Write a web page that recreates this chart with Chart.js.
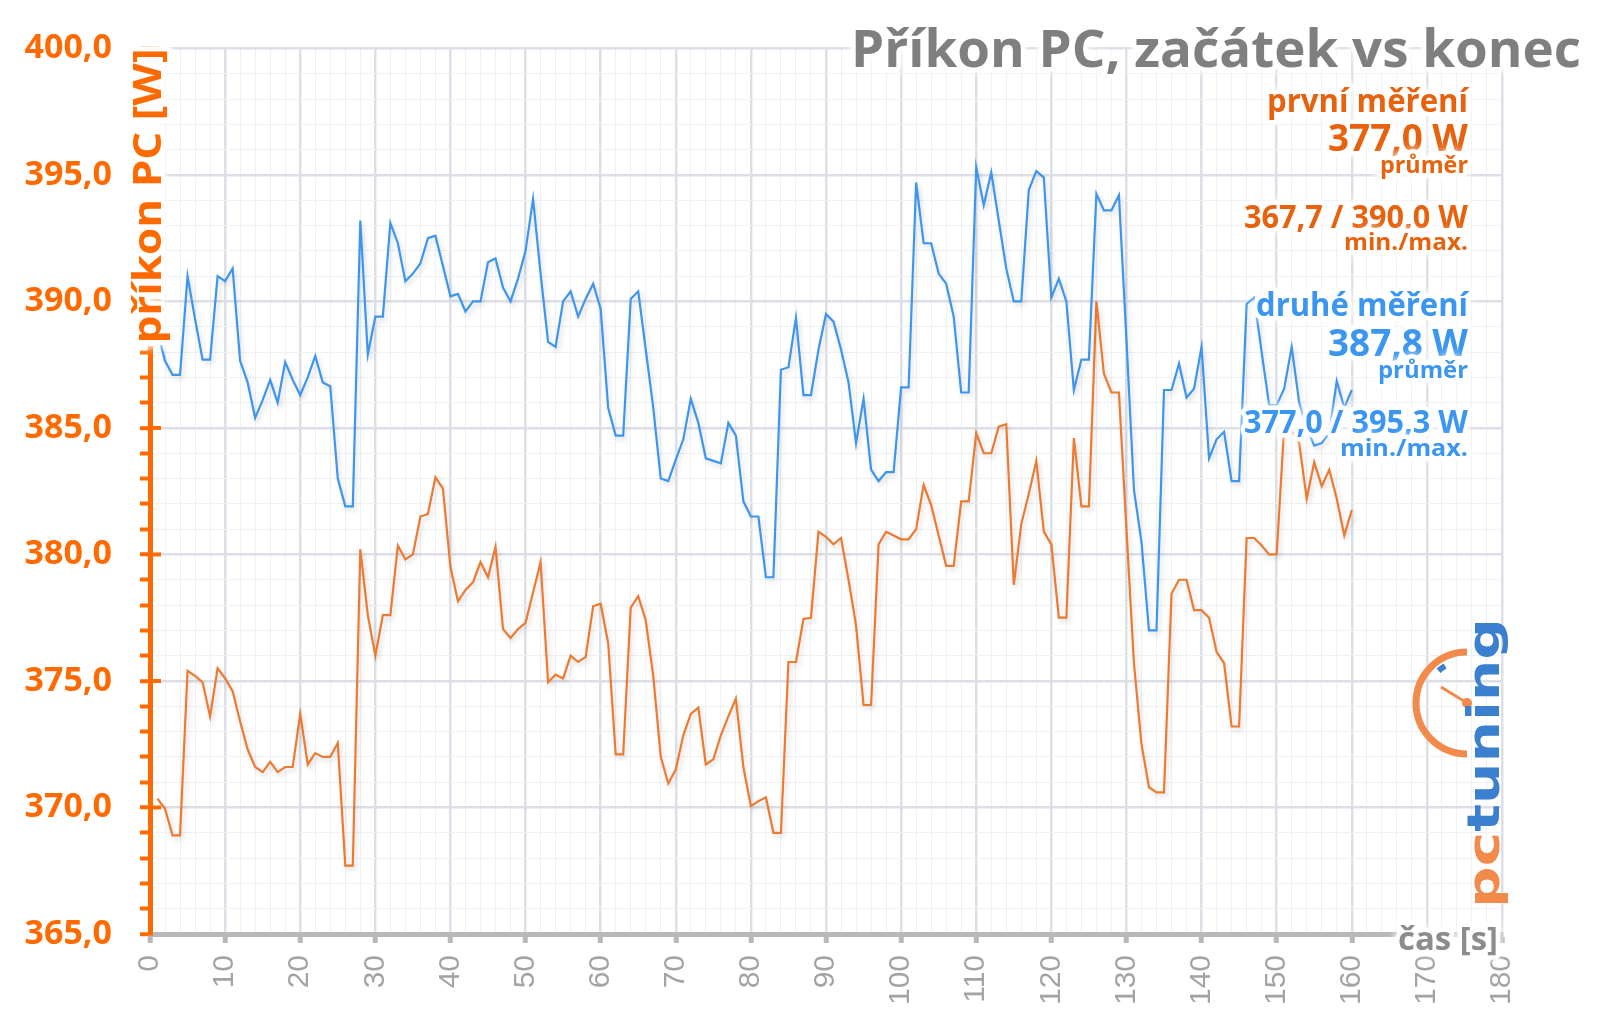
<!DOCTYPE html>
<html>
<head>
<meta charset="utf-8">
<script src="https://cdn.jsdelivr.net/npm/chart.js@4.4.0/dist/chart.umd.min.js"></script>
<style>
  html, body { margin: 0; padding: 0; background: #fff; }
  #chart { display: block; }
</style>
</head>
<body>
<canvas id="chart" width="1600" height="1017"></canvas>
<script>
// čas [s]
const seconds = [
    1, 2, 3, 4, 5, 6, 7, 8, 9, 10, 11, 12, 13, 14, 15, 16, 17, 18, 19, 20,
    21, 22, 23, 24, 25, 26, 27, 28, 29, 30, 31, 32, 33, 34, 35, 36, 37, 38, 39, 40,
    41, 42, 43, 44, 45, 46, 47, 48, 49, 50, 51, 52, 53, 54, 55, 56, 57, 58, 59, 60,
    61, 62, 63, 64, 65, 66, 67, 68, 69, 70, 71, 72, 73, 74, 75, 76, 77, 78, 79, 80,
    81, 82, 83, 84, 85, 86, 87, 88, 89, 90, 91, 92, 93, 94, 95, 96, 97, 98, 99, 100,
    101, 102, 103, 104, 105, 106, 107, 108, 109, 110, 111, 112, 113, 114, 115, 116, 117, 118, 119, 120,
    121, 122, 123, 124, 125, 126, 127, 128, 129, 130, 131, 132, 133, 134, 135, 136, 137, 138, 139, 140,
    141, 142, 143, 144, 145, 146, 147, 148, 149, 150, 151, 152, 153, 154, 155, 156, 157, 158, 159, 160
];

// první měření [W]
const firstRun = [
    370.35, 369.95, 368.9, 368.9, 375.4, 375.2, 374.95, 373.6, 375.5, 375.1,
    374.6, 373.4, 372.3, 371.6, 371.4, 371.8, 371.4, 371.6, 371.6, 373.7,
    371.7, 372.15, 372.0, 372.0, 372.55, 367.7, 367.7, 380.2, 377.6, 376.0,
    377.6, 377.6, 380.35, 379.8, 380.0, 381.5, 381.6, 383.05, 382.6, 379.5,
    378.15, 378.6, 378.9, 379.7, 379.1, 380.3, 377.05, 376.7, 377.05, 377.3,
    378.5, 379.7, 374.95, 375.25, 375.1, 376.0, 375.75, 375.95, 377.95, 378.05,
    376.5, 372.1, 372.1, 377.9, 378.35, 377.4, 375.2, 372.0, 370.95, 371.5,
    372.85, 373.7, 373.95, 371.7, 371.9, 372.85, 373.6, 374.3, 371.6, 370.05,
    370.25, 370.4, 369.0, 369.0, 375.75, 375.75, 377.45, 377.5, 380.9, 380.7,
    380.4, 380.65, 379.0, 377.2, 374.05, 374.05, 380.4, 380.9, 380.75, 380.6,
    380.6, 381.0, 382.75, 381.95, 380.75, 379.55, 379.55, 382.1, 382.1, 384.8,
    384.0, 384.0, 385.05, 385.15, 378.8, 381.2, 382.4, 383.7, 380.9, 380.4,
    377.5, 377.5, 384.6, 381.9, 381.9, 390.0, 387.15, 386.4, 386.4, 381.0,
    375.7, 372.5, 370.8, 370.6, 370.6, 378.45, 379.0, 379.0, 377.8, 377.8,
    377.5, 376.15, 375.7, 373.2, 373.2, 380.65, 380.65, 380.35, 380.0, 380.0,
    385.05, 384.9, 384.4, 382.2, 383.65, 382.7, 383.35, 382.2, 380.75, 381.75
];

// druhé měření [W]
const secondRun = [
    388.8, 387.65, 387.1, 387.1, 391.0, 389.3, 387.7, 387.7, 391.0, 390.8,
    391.3, 387.65, 386.8, 385.4, 386.1, 386.9, 386.0, 387.6, 386.9, 386.3,
    387.0, 387.85, 386.8, 386.65, 383.0, 381.9, 381.9, 393.2, 387.9, 389.4,
    389.4, 393.1, 392.3, 390.8, 391.1, 391.5, 392.5, 392.6, 391.4, 390.2,
    390.3, 389.6, 390.0, 390.0, 391.55, 391.7, 390.55, 390.0, 390.9, 392.0,
    394.05, 391.1, 388.4, 388.2, 390.0, 390.4, 389.4, 390.1, 390.7, 389.7,
    385.8, 384.7, 384.7, 390.1, 390.4, 388.1, 385.8, 383.0, 382.9, 383.75,
    384.55, 386.15, 385.2, 383.8, 383.7, 383.6, 385.2, 384.7, 382.1, 381.5,
    381.5, 379.1, 379.1, 387.3, 387.4, 389.35, 386.3, 386.3, 388.1, 389.5,
    389.2, 388.1, 386.8, 384.4, 386.15, 383.35, 382.9, 383.25, 383.25, 386.6,
    386.6, 394.7, 392.3, 392.3, 391.1, 390.7, 389.4, 386.4, 386.4, 395.3,
    393.8, 395.1, 393.2, 391.3, 390.0, 390.0, 394.4, 395.15, 394.9, 390.15,
    390.9, 390.0, 386.5, 387.7, 387.7, 394.25, 393.6, 393.6, 394.2, 388.5,
    382.55, 380.5, 377.0, 377.0, 386.5, 386.5, 387.55, 386.2, 386.55, 388.2,
    383.8, 384.55, 384.85, 382.9, 382.9, 389.9, 390.15, 388.0, 385.9, 385.9,
    386.55, 388.2, 386.0, 385.0, 384.3, 384.4, 384.8, 386.85, 385.8, 386.5
];

const ORANGE = '#ff6a00';
const ORANGE_TEXT = '#e8620e';
const ORANGE_LINE = '#ec7a30';
const BLUE_LINE = '#3d95ee';
const BLUE_TEXT = '#3b96f2';
const GRAY_TEXT = '#7f7f7f';

// text with a white halo, squeezed to the width it has in the picture
function haloText(ctx, str, x, y, size, color, width, align) {
    ctx.save();
    ctx.font = 'bold ' + size + 'px "Open Sans"';
    const w = ctx.measureText(str).width;
    const sx = width ? width / w : 1;
    ctx.translate(x, y);
    ctx.scale(sx, 1);
    ctx.textAlign = align || 'right';
    ctx.textBaseline = 'alphabetic';
    ctx.lineJoin = 'round';
    ctx.shadowColor = 'rgba(255,255,255,1)';
    ctx.shadowBlur = 10;
    ctx.strokeStyle = 'rgba(255,255,255,0.95)';
    ctx.lineWidth = 9;
    ctx.strokeText(str, 0, 0);
    ctx.shadowBlur = 0;
    ctx.fillStyle = color;
    ctx.fillText(str, 0, 0);
    ctx.restore();
}

function drawLogo(ctx) {
    const cx = 1467, cy = 703;
    ctx.save();
    ctx.strokeStyle = '#f28a4c';
    ctx.lineWidth = 7;
    ctx.beginPath();
    ctx.arc(cx, cy, 51, Math.PI / 2, Math.PI * 1.5);
    ctx.stroke();
    ctx.strokeStyle = '#3b7fcf';
    ctx.lineWidth = 6;
    ctx.beginPath();
    ctx.arc(cx, cy, 43, Math.PI * 1.27, Math.PI * 1.33);
    ctx.stroke();
    ctx.strokeStyle = '#f28a4c';
    ctx.lineWidth = 3;
    ctx.beginPath();
    ctx.moveTo(cx, cy);
    ctx.lineTo(cx - 26, cy - 16);
    ctx.stroke();
    ctx.fillStyle = '#f28a4c';
    ctx.beginPath();
    ctx.arc(cx, cy, 5, 0, Math.PI * 2);
    ctx.fill();

    ctx.translate(1499, 908);
    ctx.rotate(-Math.PI / 2);
    ctx.font = 'bold 44px "DejaVu Sans"';
    const wPc = ctx.measureText('pc').width;
    const wAll = ctx.measureText('pctuning').width;
    ctx.scale(290 / wAll, 1);
    ctx.textBaseline = 'alphabetic';
    ctx.fillStyle = '#f28a4c';
    ctx.fillText('pc', 0, 0);
    ctx.fillStyle = '#3b7fcf';
    ctx.fillText('tuning', wPc, 0);
    ctx.restore();
}

const lineShadow = {
    id: 'lineShadow',
    beforeDatasetsDraw(chart) {
        const c = chart.ctx;
        c.save();
        c.shadowColor = 'rgba(0,0,0,0.16)';
        c.shadowBlur = 5;
        c.shadowOffsetX = 2;
        c.shadowOffsetY = 3;
    },
    afterDatasetsDraw(chart) {
        chart.ctx.restore();
    }
};

const labels = {
    id: 'labels',
    afterDraw(chart) {
        const ctx = chart.ctx;
        const y = chart.scales.y;

        // white glow box behind the rotated axis title hides the axis there
        ctx.save();
        ctx.fillStyle = '#fff';
        ctx.shadowColor = '#fff';
        ctx.shadowBlur = 8;
        ctx.fillRect(124, 56, 32, 290);
        ctx.restore();

        // major ticks of the power axis poke into the plot a little
        ctx.save();
        ctx.strokeStyle = ORANGE;
        ctx.lineWidth = 4;
        y.ticks.forEach(t => {
            if (t.value % 5 === 0 && t.value > y.min) {
                const py = y.getPixelForValue(t.value);
                ctx.beginPath();
                ctx.moveTo(t.value === y.max ? 140 : 150, py);
                ctx.lineTo(161, py);
                ctx.stroke();
            }
        });
        ctx.restore();

        drawLogo(ctx);

        haloText(ctx, 'Příkon PC, začátek vs konec', 1581, 67, 52, GRAY_TEXT, 730);

        haloText(ctx, 'první měření', 1468, 112, 32, ORANGE_TEXT, 201);
        haloText(ctx, '377,0 W', 1468, 151, 37, ORANGE_TEXT, 140);
        haloText(ctx, 'průměr', 1468, 173, 24, ORANGE_TEXT, 88);
        haloText(ctx, '367,7 / 390,0 W', 1468, 228, 32, ORANGE_TEXT, 224);
        haloText(ctx, 'min./max.', 1468, 250, 24, ORANGE_TEXT, 124);

        haloText(ctx, 'druhé měření', 1468, 316, 32, BLUE_TEXT, 212);
        haloText(ctx, '387,8 W', 1468, 356, 37, BLUE_TEXT, 140);
        haloText(ctx, 'průměr', 1468, 378, 24, BLUE_TEXT, 90);
        haloText(ctx, '377,0 / 395,3 W', 1468, 433, 32, BLUE_TEXT, 224);
        haloText(ctx, 'min./max.', 1468, 456, 24, BLUE_TEXT, 128);

        haloText(ctx, 'čas [s]', 1498, 950, 33, '#8c8c8c', 100);

        ctx.save();
        ctx.translate(161, 196);
        ctx.rotate(-Math.PI / 2);
        haloText(ctx, 'příkon PC [W]', 0, 0, 40, ORANGE, 295, 'center');
        ctx.restore();
    }
};

new Chart(document.getElementById('chart').getContext('2d'), {
    type: 'line',
    data: {
        labels: seconds,
        datasets: [
            {
                label: 'druhé měření',
                data: secondRun,
                borderColor: BLUE_LINE,
                borderWidth: 2.2,
                pointRadius: 0,
                tension: 0,
                fill: false
            },
            {
                label: 'první měření',
                data: firstRun,
                borderColor: ORANGE_LINE,
                borderWidth: 2.2,
                pointRadius: 0,
                tension: 0,
                fill: false
            }
        ]
    },
    options: {
        responsive: false,
        animation: false,
        devicePixelRatio: 1,
        layout: { padding: { left: 0, top: 48, right: 98, bottom: 0 } },
        plugins: {
            legend: { display: false },
            tooltip: { enabled: false }
        },
        scales: {
            x: {
                type: 'linear',
                min: 0,
                max: 180,
                afterFit(scale) { scale.height = 83; },
                border: { color: '#b8b8b8', width: 5 },
                grid: {
                    color: c => c.tick.value % 10 === 0 ? '#dcdfe7' : '#eef0f4',
                    lineWidth: c => c.tick.value % 10 === 0 ? 2.5 : 1,
                    tickColor: c => c.tick.value % 10 === 0 ? '#b8b8b8' : 'rgba(0,0,0,0)',
                    tickWidth: 5,
                    tickLength: 9
                },
                ticks: {
                    stepSize: 2,
                    autoSkip: false,
                    minRotation: 90,
                    maxRotation: 90,
                    padding: 12,
                    color: '#a3a3a3',
                    font: { family: 'Liberation Sans', size: 30 },
                    callback: v => v % 10 === 0 ? String(v) : ''
                }
            },
            y: {
                min: 365,
                max: 400,
                afterFit(scale) { scale.width = 150; },
                border: { color: ORANGE, width: 5 },
                grid: {
                    color: c => c.tick.value % 5 === 0 ? '#dcdfe7' : '#eef0f4',
                    lineWidth: c => c.tick.value % 5 === 0 ? 2.5 : 1,
                    tickColor: ORANGE,
                    tickWidth: 4,
                    tickLength: 10
                },
                ticks: {
                    stepSize: 1,
                    autoSkip: false,
                    padding: 28,
                    color: ORANGE,
                    textStrokeColor: 'rgba(255,255,255,0.9)',
                    textStrokeWidth: 6,
                    font: { family: 'Open Sans', size: 34, weight: 'bold' },
                    callback: v => v % 5 === 0 ? v.toFixed(1).replace('.', ',') : ''
                }
            }
        }
    },
    plugins: [lineShadow, labels]
});
</script>
</body>
</html>
